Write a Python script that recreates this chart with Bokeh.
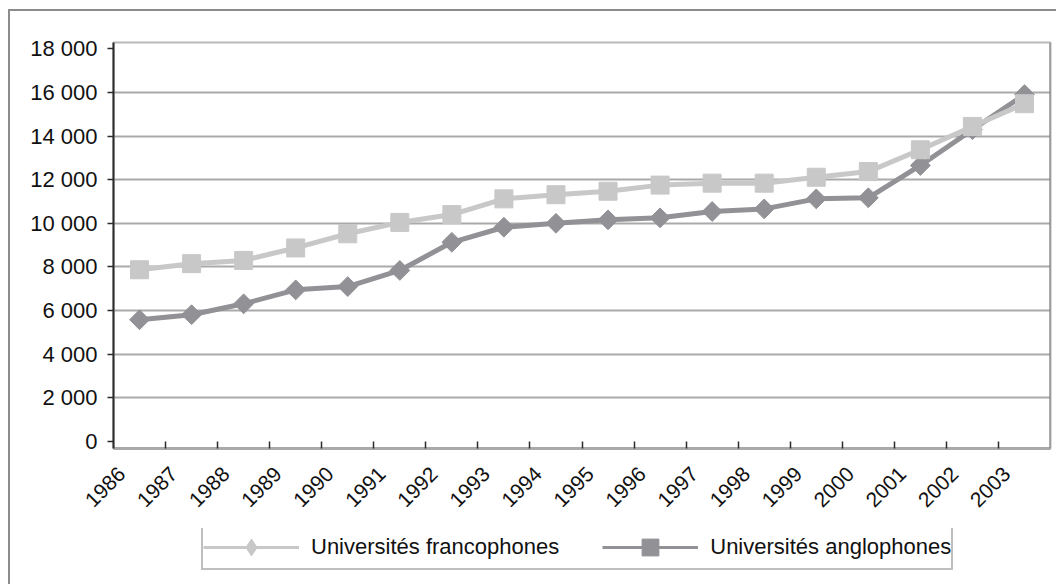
from math import pi
from bokeh.plotting import figure
from bokeh.layouts import column
from bokeh.models import Range1d, FixedTicker, Legend, LegendItem, Span
from bokeh.embed import file_html
from bokeh.resources import INLINE

years = ["1986", "1987", "1988", "1989", "1990", "1991", "1992", "1993", "1994",
         "1995", "1996", "1997", "1998", "1999", "2000", "2001", "2002", "2003"]
francophones = [7870, 8150, 8300, 8870, 9520, 10040, 10400, 11120, 11310,
                11470, 11750, 11840, 11840, 12110, 12370, 13370, 14440, 15480]
anglophones = [5580, 5810, 6310, 6950, 7100, 7840, 9130, 9820, 10000,
               10160, 10250, 10540, 10660, 11120, 11170, 12650, 14290, 15900]
y_ticks = [0, 2000, 4000, 6000, 8000, 10000, 12000, 14000, 16000, 18000]
y_tick_labels = ["0", "2 000", "4 000", "6 000", "8 000", "10 000", "12 000",
                 "14 000", "16 000", "18 000"]
series_labels = ["Universités francophones", "Universités anglophones"]

FONT = "'Liberation Sans', Arial, sans-serif"
LIGHT = "#c8c8c8"
DARK = "#919196"

xs = list(range(len(years)))

p = figure(width=1046, height=517, output_backend="svg", toolbar_location=None,
           x_range=Range1d(-0.5, len(years) - 0.5), y_range=Range1d(-321, 18286),
           min_border_left=103, min_border_top=31, min_border_right=6,
           min_border_bottom=80, background_fill_color="white",
           border_fill_color="white")

p.outline_line_color = "#b9b9b9"
p.outline_line_width = 2

# grid
p.xgrid.visible = False
p.ygrid.ticker = FixedTicker(ticks=y_ticks[1:-1])
p.ygrid.grid_line_color = "#a9a9a9"
p.ygrid.grid_line_width = 2

# y axis
yax = p.yaxis[0]
yax.ticker = FixedTicker(ticks=y_ticks)
yax.major_label_overrides = {v: s for v, s in zip(y_ticks, y_tick_labels)}
yax.axis_line_color = "#2b2b2b"
yax.axis_line_width = 2
yax.major_tick_in = 0
yax.major_tick_out = 6
yax.major_tick_line_color = "#2b2b2b"
yax.major_tick_line_width = 1.5
yax.minor_tick_line_color = None
yax.major_label_standoff = 10
yax.major_label_text_font = FONT
yax.major_label_text_font_size = "22px"
yax.major_label_text_color = "#111111"

# x axis: labels left of category centre, tick marks on category boundaries
label_pos = [i - 0.34 for i in xs]
xax = p.xaxis[0]
xax.ticker = FixedTicker(ticks=label_pos, minor_ticks=[i + 0.5 for i in xs[:-1]])
xax.major_label_overrides = {pos: y for pos, y in zip(label_pos, years)}
xax.major_label_orientation = pi / 4
xax.axis_line_color = "#a9a9a9"
xax.axis_line_width = 3
xax.major_tick_in = 0
xax.major_tick_out = 0
xax.minor_tick_in = 7
xax.minor_tick_out = 0
xax.minor_tick_line_color = "#2b2b2b"
xax.minor_tick_line_width = 1.5
xax.major_label_standoff = 22
xax.major_label_text_font = FONT
xax.major_label_text_font_size = "21px"
xax.major_label_text_color = "#111111"

p.add_layout(Span(location=len(years) - 0.5, dimension="height",
                  line_color="#7f7f7f", line_width=2))

# data (anglophones under francophones)
p.line(xs, anglophones, line_color=DARK, line_width=5)
p.scatter(xs, anglophones, marker="square", angle=pi / 4, size=14,
          fill_color=DARK, line_color=DARK)
p.line(xs, francophones, line_color=LIGHT, line_width=5)
p.scatter(xs, francophones, marker="square", size=18,
          fill_color=LIGHT, line_color=LIGHT)

# legend in its own strip below the chart
lg = figure(width=1046, height=56, output_backend="svg", toolbar_location=None,
            x_range=Range1d(-0.5, len(years) - 0.5), y_range=Range1d(-321, 18286),
            x_axis_location=None, y_axis_location=None,
            min_border=0, background_fill_color="white", border_fill_color="white")
lg.outline_line_color = None
lg.grid.visible = False

lf_line = lg.line(xs, francophones, line_color=LIGHT, line_width=3, visible=False)
lf_mark = lg.scatter(xs, francophones, marker="diamond", size=20,
                     fill_color=LIGHT, line_color=LIGHT, visible=False)
la_line = lg.line(xs, anglophones, line_color=DARK, line_width=3, visible=False)
la_mark = lg.scatter(xs, anglophones, marker="square", size=19,
                     fill_color=DARK, line_color=DARK, visible=False)

legend = Legend(items=[LegendItem(label=series_labels[0], renderers=[lf_line, lf_mark]),
                       LegendItem(label=series_labels[1], renderers=[la_line, la_mark])],
                location=(88, 14), orientation="horizontal",
                glyph_width=96, glyph_height=42, label_height=42,
                label_standoff=12, spacing=43, padding=0, margin=0,
                border_line_color="#808080", border_line_width=2,
                label_text_font=FONT, label_text_font_size="22px",
                label_text_color="#111111", background_fill_alpha=1,
                inactive_fill_alpha=0, click_policy="none")
lg.add_layout(legend, "center")

layout = column(p, lg, spacing=0)
layout.styles = {"margin-left": "8px", "margin-top": "9px",
                 "border-left": "2px solid #8c8c8c", "border-top": "2px solid #8c8c8c"}

open("out.html", "w").write(file_html(layout, INLINE))
